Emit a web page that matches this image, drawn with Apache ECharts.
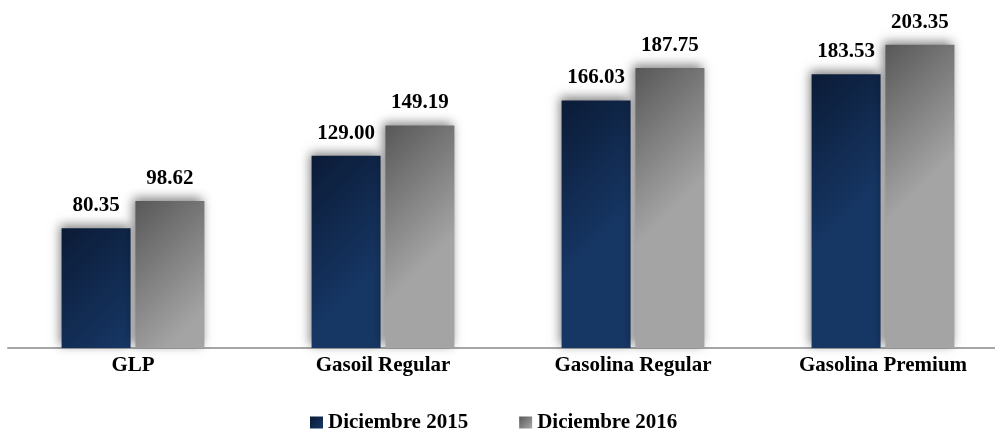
<!DOCTYPE html>
<html>
<head>
<meta charset="utf-8">
<script src="https://cdn.jsdelivr.net/npm/echarts@6/dist/echarts.min.js"></script>
<style>
  html, body { margin: 0; padding: 0; background: #fff; }
  #main { width: 995px; height: 430px; }
</style>
</head>
<body>
<div id="main"></div>
<script>
var categories = ['GLP', 'Gasoil Regular', 'Gasolina Regular', 'Gasolina Premium'];
var seriesNames = ['Diciembre 2015', 'Diciembre 2016'];
var values2015 = [80.35, 129.00, 166.03, 183.53];
var values2016 = [98.62, 149.19, 187.75, 203.35];

var fontFamily = '"Liberation Serif", "Times New Roman", serif';
var barW = 69;
var pxPerUnit = 328 / 220;

// diagonal gradient at ~45deg in pixels, from the top-left corner
function diag(c1, c2, v) {
    var r = 1.3 * barW / (v * pxPerUnit);
    return new echarts.graphic.LinearGradient(0, 0, 1.3, r, [
        { offset: 0, color: c1 },
        { offset: 1, color: c2 }
    ]);
}

function items(vals, c1, c2) {
    return vals.map(function (v) {
        return { value: v, itemStyle: { color: diag(c1, c2, v) } };
    });
}

var labelStyle = {
    show: true,
    position: 'top',
    distance: 12,
    fontFamily: fontFamily,
    fontWeight: 'bold',
    fontSize: 21,
    color: '#000',
    formatter: function (p) { return p.value.toFixed(2); }
};

var shadow = {
    shadowBlur: 10,
    shadowColor: 'rgba(0,0,0,0.5)',
    shadowOffsetX: -2,
    shadowOffsetY: -3
};

var myChart = echarts.init(document.getElementById('main'));
myChart.setOption({
    animation: false,
    grid: {
        left: 8,
        width: 1000,
        top: 20,
        bottom: 82,
        outerBoundsMode: 'none'
    },
    legend: {
        left: 305,
        top: 407,
        itemWidth: 13,
        itemHeight: 12,
        itemGap: 51,
        icon: 'rect',
        textStyle: {
            fontFamily: fontFamily,
            fontWeight: 'bold',
            fontSize: 21,
            color: '#000'
        },
        data: [
            { name: seriesNames[0], itemStyle: { color: new echarts.graphic.LinearGradient(0, 0, 1, 1, [{ offset: 0, color: '#0b1b36' }, { offset: 1, color: '#173866' }]) } },
            { name: seriesNames[1], itemStyle: { color: new echarts.graphic.LinearGradient(0, 0, 1, 1, [{ offset: 0, color: '#585858' }, { offset: 1, color: '#a8a8a8' }]) } }
        ]
    },
    xAxis: {
        type: 'category',
        data: categories,
        axisTick: { show: false },
        axisLine: {
            lineStyle: { color: '#a6a6a6', width: 2 }
        },
        axisLabel: {
            margin: 7,
            fontFamily: fontFamily,
            fontWeight: 'bold',
            fontSize: 21,
            color: '#000'
        }
    },
    yAxis: {
        type: 'value',
        min: 0,
        max: 220,
        show: false,
        splitLine: { show: false }
    },
    series: [
        {
            name: seriesNames[0],
            type: 'bar',
            data: items(values2015, '#0b1b36', '#163664'),
            barWidth: barW,
            barGap: '7%',
            label: labelStyle,
            itemStyle: Object.assign({ color: '#12305a' }, shadow)
        },
        {
            name: seriesNames[1],
            type: 'bar',
            data: items(values2016, '#585858', '#a4a4a4'),
            barWidth: barW,
            label: labelStyle,
            itemStyle: Object.assign({ color: '#8a8a8a' }, shadow)
        }
    ]
});
</script>
</body>
</html>
